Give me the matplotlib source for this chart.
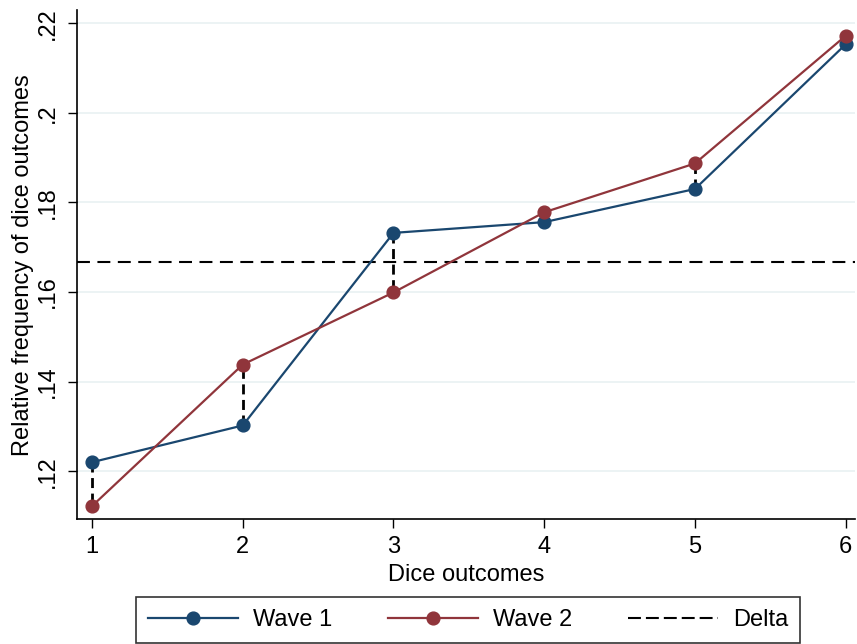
import matplotlib
matplotlib.use("Agg")
import matplotlib.pyplot as plt
from matplotlib.lines import Line2D

plt.rcParams['font.family'] = ['Liberation Sans', 'DejaVu Sans']

outcomes = [1, 2, 3, 4, 5, 6]
wave1 = [0.1220, 0.1302, 0.1732, 0.1756, 0.1830, 0.2153]
wave2 = [0.1122, 0.1438, 0.1599, 0.1778, 0.1887, 0.2172]
expected = 1 / 6
yticks = [0.12, 0.14, 0.16, 0.18, 0.20, 0.22]
yticklabels = [".12", ".14", ".16", ".18", ".2", ".22"]

c1 = "#1a476f"
c2 = "#90353b"
grid_c = "#eaf2f3"

fig = plt.figure(figsize=(8.57, 6.44), dpi=100)
ax = fig.add_axes([0.0898, 0.194, 0.9075, 0.79])

for y in yticks:
    ax.axhline(y, color=grid_c, lw=1.3, zorder=0)

ax.axhline(expected, color="black", lw=1.5, dashes=(6.2, 3.6), zorder=2)
for x, a, b in zip(outcomes, wave1, wave2):
    ax.plot([x, x], [a, b], color="black", lw=2.0, dashes=(3.6, 2.0), zorder=2)

ax.plot(outcomes, wave1, color=c1, lw=1.6, marker="o", ms=9.2, zorder=3)
ax.plot(outcomes, wave2, color=c2, lw=1.6, marker="o", ms=9.2, zorder=3)

ax.set_xlim(0.9, 6.06)
ax.set_ylim(0.1093, 0.2229)
ax.set_xticks(outcomes)
ax.set_yticks(yticks)
ax.set_yticklabels(yticklabels, rotation=90, va="center")
ax.tick_params(axis="both", labelsize=17, length=6.5, width=1, color="black")
ax.tick_params(axis="y", pad=6.5)
ax.tick_params(axis="x", pad=5.5)

for s in ["top", "right"]:
    ax.spines[s].set_visible(False)
for s in ["left", "bottom"]:
    ax.spines[s].set_linewidth(1.2)

ax.set_xlabel("Dice outcomes", fontsize=17, labelpad=4.3)
ax.set_ylabel("Relative frequency of dice outcomes", fontsize=17, labelpad=2)

handles = [
    Line2D([], [], color=c1, lw=1.6, marker="o", ms=9.2),
    Line2D([], [], color=c2, lw=1.6, marker="o", ms=9.2),
    Line2D([], [], color="black", lw=1.5, dashes=(6.2, 2.4)),
]
leg = fig.legend(handles, ["Wave 1", "Wave 2", "Delta"], loc="center",
                 bbox_to_anchor=(136 / 857, 2 / 644, 664 / 857, 44 / 644),
                 mode="expand", ncol=3, fontsize=17,
                 frameon=True, fancybox=False, handlelength=3.8,
                 columnspacing=1.5, handletextpad=0.64, borderpad=0.5,
                 borderaxespad=0)
leg.get_frame().set_edgecolor("black")
leg.get_frame().set_linewidth(1.2)

fig.savefig("out.png", dpi=100)
